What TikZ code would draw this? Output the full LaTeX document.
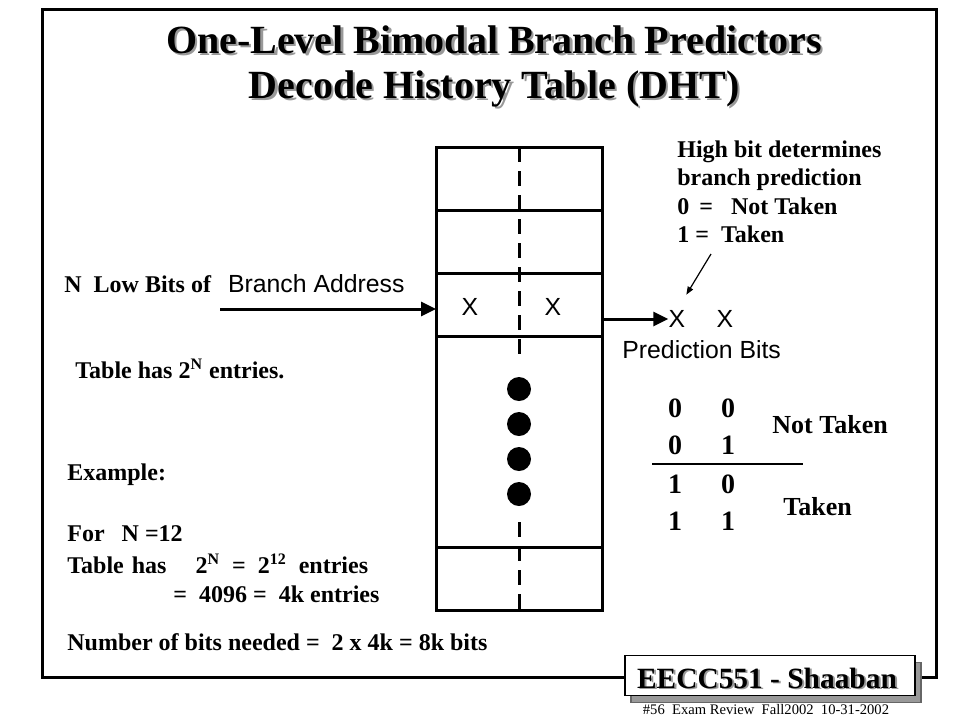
\documentclass[tikz,border=0pt]{standalone}
\usepackage{fontspec}
\setmainfont{Liberation Serif}
\newfontfamily\arialfont{Liberation Sans}
\usetikzlibrary{positioning,arrows.meta,shadows}
\definecolor{shade}{gray}{0.6}

\begin{document}
\begin{tikzpicture}[x = 0.5pt, y = -0.5pt,
    cell/.style = {draw, line width = 1.5pt, minimum width = 83pt,
        minimum height = 31.5pt, inner sep = 0pt, outer sep = 0pt},
    divider/.style = {line width = 1.5pt, dash pattern = on 7.5pt off 4.5pt},
    feed/.style = {line width = 1.5pt, -{Triangle[length = 7.5pt, width = 7pt]}},
    pointer/.style = {line width = 0.6pt, -{Triangle[length = 4pt, width = 3pt]}},
    title/.style = {anchor = base, inner sep = 0pt,
        font = \fontsize{20}{24}\selectfont\bfseries},
    titleshade/.style = {title, text = shade},
    txt/.style = {anchor = base west, inner sep = 0pt,
        font = \fontsize{12}{14.25}\selectfont\bfseries},
    sans/.style = {inner sep = 0pt, font = \fontsize{12.4}{14}\selectfont\arialfont},
    digit/.style = {anchor = base, inner sep = 0pt,
        font = \fontsize{14}{16}\selectfont\bfseries},
    verdict/.style = {anchor = base west, inner sep = 0pt,
        font = \fontsize{13}{16}\selectfont\bfseries},
    sigtext/.style = {anchor = base, inner sep = 0pt,
        font = \fontsize{14.7}{18}\selectfont\bfseries},
    sigshade/.style = {sigtext, text = shade}]
    \useasboundingbox (0,0) rectangle (960,720);
    % slide frame
    \draw[line width = 1.5pt] (42,9) rectangle (936,677);
    % title
    \node[titleshade] (t1s) at (496.5,55.5) {One-Level Bimodal Branch Predictors};
    \node[title] (t1) at (494,53) {One-Level Bimodal Branch Predictors};
    \node[titleshade] (t2s) at (496.5,100.5) {Decode History Table (DHT)};
    \node[title] (t2) at (494,98) {Decode History Table (DHT)};
    % decode history table
    \node[cell] (r1) at (519,178.5) {};
    \node[cell, below = 0pt of r1] (r2) {};
    \node[cell, below = 0pt of r2] (r3) {};
    \node[cell, below = 0pt of r3, minimum height = 105.5pt] (r4) {};
    \node[cell, below = 0pt of r4] (r5) {};
    \draw[divider] (r1.north) -- ([yshift = -12pt]r4.north);
    \draw[divider] ([yshift = 12.5pt]r5.north) -- (r5.south);
    \foreach \y in {389, 424, 459, 494}
        \fill (519,\y) circle (6pt);
    \node[sans] (hbit) at (470,307) {X};
    \node[sans] (lbit) at (553,307) {X};
    % index
    \node[txt] (lowbits) at (64,292) {N\ \ Low Bits of\hspace{8.5pt}{\fontsize{12.4}{14}\selectfont\arialfont\mdseries Branch Address}};
    \coordinate (addr) at (220,309);
    \draw[feed] (addr) -- (r3.west |- addr);
    \node[txt] (entries) at (75,378) {Table has 2\textsuperscript{N} entries.};
    % example
    \node[txt] (example) at (67,480) {Example:};
    \node[txt] (forn) at (67,541) {For\hspace{8.5pt}N =12};
    \node[txt] (size) at (67,573) {Table\hspace{4pt}has\hspace{14.5pt}2\textsuperscript{N}\ \ =\ \ 2\textsuperscript{12}\ \ entries};
    \node[txt] (size2) at (173,602) {=\ \ 4096 =\ \ 4k entries};
    \node[txt] (bits) at (67,650) {Number of bits needed =\ \ 2 x 4k = 8k bits};
    % prediction bits
    \node[sans] (predhi) at (677,319) {X};
    \node[sans] (predlo) at (725,319) {X};
    \node[sans, anchor = base west] (predlabel) at (622,358) {Prediction Bits};
    \draw[feed] (r3.east |- predhi) -- (predhi.west);
    \node[txt, anchor = north west, align = left] (note) at (677,140)
        {High bit determines\\ branch prediction\\ 0 \,=\ \ \ Not Taken\\ 1 =\ \ Taken};
    \coordinate (notetail) at (711,254);
    \draw[pointer, shorten > = 9pt] (notetail) -- (predhi.north);
    \foreach \hi/\lo/\y in {0/0/417, 0/1/454, 1/0/493, 1/1/530} {
        \node[digit] (hi\y) at (675,\y) {\hi};
        \node[digit] (lo\y) at (728,\y) {\lo};
    }
    \draw[line width = 0.6pt] (652,464) -- (803,464);
    \node[verdict] (nottaken) at (772,433) {Not Taken};
    \node[verdict] (taken) at (783,515) {Taken};
    % signature box
    \node[draw, line width = 0.6pt, fill = white, minimum width = 145pt,
        minimum height = 20pt, drop shadow = {shadow xshift = 3pt,
        shadow yshift = -3.5pt, fill = shade, draw = black!60, opacity = 1}]
        (sig) at (770,675.5) {};
    \node[sigshade] (sigs) at (769,689.5) {EECC551 - Shaaban};
    \node[sigtext] (sigt) at (767,688) {EECC551 - Shaaban};
    \node[anchor = base, inner sep = 0pt, font = \fontsize{7.3}{9}\selectfont]
        (footer) at (766,714) {\#56\ \ Exam Review\ \ Fall2002\ \ 10-31-2002};
\end{tikzpicture}
\end{document}
